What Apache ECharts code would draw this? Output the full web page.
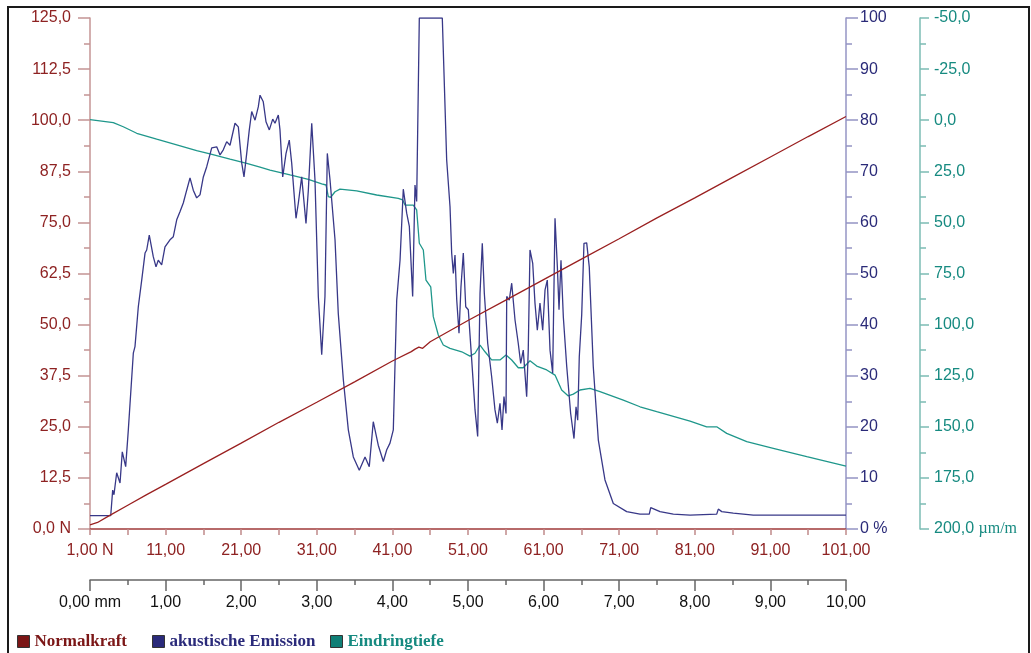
<!DOCTYPE html>
<html><head><meta charset="utf-8">
<script src="https://cdn.jsdelivr.net/npm/echarts@6/dist/echarts.min.js"></script>
<style>html,body{margin:0;padding:0;background:#fff}#c{width:1031px;height:653px}</style>
</head><body><div id="c"></div>
<script>
// Tick labels
const mmTicks = ['0,00 mm','1,00','2,00','3,00','4,00','5,00','6,00','7,00','8,00','9,00','10,00'];
const forceXTicks = ['1,00 N','11,00','21,00','31,00','41,00','51,00','61,00','71,00','81,00','91,00','101,00'];
const forceTicks = ['0,0 N','12,5','25,0','37,5','50,0','62,5','75,0','87,5','100,0','112,5','125,0'];
const pctTicks = ['0 %','10','20','30','40','50','60','70','80','90','100'];
const depthTicks = ['-50,0','-25,0','0,0','25,0','50,0','75,0','100,0','125,0','150,0','175,0','200,0'];

// Series names
const seriesNames = ['Normalkraft','akustische Emission','Eindringtiefe'];

// Normalkraft [mm, N]
const normalkraft = [[0,1.0],[0.1,1.6],[0.25,3.2],[0.5,5.8],[0.75,8.4],[1,10.9],[1.5,16.0],[2,21.0],[2.5,26.1],[3,31.0],[3.5,36.0],[4,41.1],[4.25,43.4],[4.3,44.0],[4.35,44.5],[4.4,44.2],[4.5,45.8],[5,51.0],[5.5,56.0],[6,61.0],[6.5,66.0],[7,71.0],[7.5,76.1],[8,81.0],[8.5,86.0],[9,91.0],[9.5,96.0],[10,100.9]];

// akustische Emission [mm, %]
const emission = [[0,2.6],[0.274,2.6],[0.300,7.6],[0.317,6.7],[0.353,11.0],[0.397,9.0],[0.427,15.1],[0.472,12.2],[0.507,19.4],[0.529,19.6],[0.573,34.4],[0.595,35.7],[0.639,43.5],[0.684,48.7],[0.728,54.0],[0.750,54.6],[0.784,57.5],[0.837,53.3],[0.873,51.3],[0.903,52.6],[0.948,51.7],[0.992,55.2],[1.058,56.6],[1.102,57.2],[1.147,60.5],[1.190,62.1],[1.234,63.8],[1.279,66.3],[1.323,68.7],[1.366,66.3],[1.411,64.8],[1.455,65.4],[1.499,68.9],[1.544,70.9],[1.610,74.6],[1.676,74.8],[1.720,73.2],[1.763,74.2],[1.808,75.8],[1.852,75.1],[1.918,79.4],[1.962,78.7],[2.007,71.6],[2.037,68.9],[2.073,73.5],[2.107,78.1],[2.139,81.7],[2.183,80.0],[2.226,82.6],[2.249,84.9],[2.292,83.6],[2.328,79.7],[2.372,78.1],[2.417,80.2],[2.447,79.4],[2.491,81.0],[2.513,78.1],[2.549,68.9],[2.593,73.5],[2.636,76.1],[2.668,71.6],[2.725,60.8],[2.755,63.7],[2.800,68.9],[2.857,59.8],[2.888,66.3],[2.933,79.4],[2.976,68.3],[3.020,45.5],[3.065,34.1],[3.108,45.5],[3.139,73.5],[3.175,68.3],[3.241,56.6],[3.284,42.2],[3.351,29.2],[3.417,19.4],[3.483,14.1],[3.562,11.5],[3.638,14.1],[3.694,12.2],[3.747,21.0],[3.813,16.4],[3.880,13.2],[3.925,15.5],[3.968,16.8],[4.012,19.4],[4.057,44.8],[4.101,52.6],[4.144,66.5],[4.189,61.8],[4.224,59.2],[4.268,45.5],[4.299,67.3],[4.321,64.1],[4.356,100],[4.660,100],[4.718,72.2],[4.762,63.1],[4.784,54.0],[4.806,50.0],[4.828,53.6],[4.851,44.8],[4.881,38.3],[4.907,47.4],[4.938,54.0],[4.970,43.5],[5.004,42.9],[5.049,33.1],[5.093,23.3],[5.128,18.1],[5.159,46.1],[5.189,55.9],[5.216,46.1],[5.261,36.3],[5.313,29.8],[5.357,23.3],[5.388,20.7],[5.423,24.6],[5.450,19.4],[5.476,25.9],[5.503,22.6],[5.512,45.5],[5.546,44.8],[5.578,48.1],[5.622,40.9],[5.665,36.3],[5.697,32.4],[5.731,35.0],[5.776,25.9],[5.797,35.0],[5.820,54.6],[5.856,52.0],[5.886,44.2],[5.917,38.9],[5.952,44.2],[5.988,38.9],[6.019,46.8],[6.049,48.7],[6.085,35.0],[6.120,30.5],[6.151,60.8],[6.182,51.3],[6.204,42.9],[6.230,52.6],[6.261,41.5],[6.306,31.8],[6.358,22.6],[6.402,17.7],[6.429,23.9],[6.451,21.3],[6.472,33.7],[6.504,41.9],[6.534,55.9],[6.570,56.0],[6.604,51.3],[6.657,31.8],[6.724,17.4],[6.812,9.6],[6.922,5.0],[7.099,3.4],[7.275,2.9],[7.398,2.9],[7.417,4.2],[7.540,3.4],[7.716,2.9],[7.937,2.7],[8.290,2.9],[8.311,3.9],[8.356,3.4],[8.377,3.7],[8.509,3.1],[8.774,2.7],[10,2.7]];

// Eindringtiefe [mm, µm/m]
const eindringtiefe = [[0,-0.3],[0.308,1.2],[0.440,3.2],[0.618,6.4],[0.882,9.3],[1.147,12.1],[1.411,14.9],[1.587,16.5],[1.852,19.1],[2.073,21.1],[2.249,23.0],[2.381,24.4],[2.646,26.8],[2.888,28.9],[3.065,31.2],[3.122,31.7],[3.152,37.4],[3.184,37.7],[3.241,35.0],[3.307,33.7],[3.528,34.6],[3.792,36.6],[4.078,38.2],[4.136,39.0],[4.167,41.5],[4.276,41.5],[4.321,43.9],[4.356,60.2],[4.409,63.5],[4.444,78.2],[4.507,81.5],[4.541,96.1],[4.607,105.1],[4.673,110.0],[4.762,111.6],[4.917,113.3],[5.026,115.4],[5.093,114.0],[5.159,110.0],[5.225,113.3],[5.313,117.3],[5.423,117.3],[5.503,114.9],[5.578,117.3],[5.665,121.1],[5.731,121.1],[5.820,117.7],[5.909,120.3],[6.041,122.2],[6.151,124.7],[6.239,132.0],[6.327,134.9],[6.393,134.0],[6.481,132.0],[6.614,131.2],[6.746,132.8],[7.054,136.9],[7.275,140.2],[7.496,142.6],[7.937,147.2],[8.157,150.0],[8.290,150.0],[8.422,153.2],[8.687,157.3],[9.038,160.5],[9.481,164.6],[10,169.2]];

const FONT = "'Liberation Sans', Arial, sans-serif";
const SERIF = "'Liberation Serif', 'Times New Roman', serif";
const RED = '#8e2222', BLUE = '#2f2f80', TEAL = '#168a80';

const chart = echarts.init(document.getElementById('c'), null, {renderer: 'canvas'});
chart.setOption({
  animation: false,
  backgroundColor: '#fff',
  grid: {left: 90, right: 185, top: 18, bottom: 124, containLabel: false},
  graphic: [{type: 'rect', shape: {x: 8, y: 7, width: 1021, height: 670}, style: {fill: 'none', stroke: '#1a1a1a', lineWidth: 2}, silent: true}],
  xAxis: [
    {type: 'value', min: 0, max: 10, interval: 1, position: 'bottom', offset: 51,
     axisLine: {show: true, onZero: false, lineStyle: {color: '#666', width: 1.5}},
     axisTick: {show: true, length: 11, lineStyle: {color: '#666', width: 1.5}},
     minorTick: {show: true, splitNumber: 2, length: 5, lineStyle: {color: '#666', width: 1.5}},
     splitLine: {show: false},
     axisLabel: {margin: 15, color: '#111', fontFamily: FONT, fontSize: 16, formatter: v => mmTicks[Math.round(v)]}},
    {type: 'value', min: 0, max: 10, interval: 1, position: 'bottom', offset: 0,
     axisLine: {show: true, onZero: false, lineStyle: {color: '#a03a3a', width: 1.5}},
     axisTick: {show: true, length: 6, lineStyle: {color: '#c08a8a', width: 1.5}},
     minorTick: {show: true, splitNumber: 2, length: 6, lineStyle: {color: '#c08a8a', width: 1.5}},
     splitLine: {show: false},
     axisLabel: {margin: 14, color: RED, fontFamily: FONT, fontSize: 16, formatter: v => forceXTicks[Math.round(v)]}}
  ],
  yAxis: [
    {type: 'value', min: 0, max: 125, interval: 12.5, position: 'left',
     axisLine: {show: true, onZero: false, lineStyle: {color: '#c49494', width: 1.5}},
     axisTick: {show: true, length: 12, lineStyle: {color: '#c49494', width: 1.5}},
     minorTick: {show: true, splitNumber: 2, length: 6, lineStyle: {color: '#c49494', width: 1.5}},
     splitLine: {show: false},
     axisLabel: {margin: 19, color: RED, fontFamily: FONT, fontSize: 16, formatter: v => forceTicks[Math.round(v / 12.5)]}},
    {type: 'value', min: 0, max: 100, interval: 10, position: 'right', offset: 0,
     axisLine: {show: true, onZero: false, lineStyle: {color: '#9494c4', width: 1.5}},
     axisTick: {show: true, length: 12, lineStyle: {color: '#9494c4', width: 1.5}},
     minorTick: {show: true, splitNumber: 2, length: 6, lineStyle: {color: '#9494c4', width: 1.5}},
     splitLine: {show: false},
     axisLabel: {margin: 14, color: '#2a2a78', fontFamily: FONT, fontSize: 16, formatter: v => pctTicks[Math.round(v / 10)]}},
    {type: 'value', min: -50, max: 200, interval: 25, inverse: true, position: 'right', offset: 74,
     axisLine: {show: true, onZero: false, lineStyle: {color: '#7cbcb4', width: 1.5}},
     axisTick: {show: true, length: 9, lineStyle: {color: '#7cbcb4', width: 1.5}},
     minorTick: {show: true, splitNumber: 2, length: 6, lineStyle: {color: '#7cbcb4', width: 1.5}},
     splitLine: {show: false},
     axisLabel: {margin: 14, color: TEAL, fontFamily: FONT, fontSize: 16,
       formatter: v => { const i = Math.round((v + 50) / 25); return i === depthTicks.length - 1 ? depthTicks[i] + ' {u|µm/m}' : depthTicks[i]; },
       rich: {u: {fontFamily: SERIF, fontSize: 16, color: TEAL}}}}
  ],
  legend: [
    {left: 17, top: 633, padding: 0, itemWidth: 12, itemHeight: 12, icon: 'rect', selectedMode: false,
     data: [{name: seriesNames[0], itemStyle: {color: '#7b1616', borderColor: '#333', borderWidth: 1}, textStyle: {color: '#7b1616'}}],
     textStyle: {fontFamily: SERIF, fontWeight: 'bold', fontSize: 17}},
    {left: 152, top: 633, padding: 0, itemWidth: 12, itemHeight: 12, icon: 'rect', selectedMode: false,
     data: [{name: seriesNames[1], itemStyle: {color: '#2a2a7a', borderColor: '#333', borderWidth: 1}, textStyle: {color: '#2a2a7a'}}],
     textStyle: {fontFamily: SERIF, fontWeight: 'bold', fontSize: 17}},
    {left: 330, top: 633, padding: 0, itemWidth: 12, itemHeight: 12, icon: 'rect', selectedMode: false,
     data: [{name: seriesNames[2], itemStyle: {color: '#0f7f76', borderColor: '#333', borderWidth: 1}, textStyle: {color: '#168a80'}}],
     textStyle: {fontFamily: SERIF, fontWeight: 'bold', fontSize: 17}}
  ],
  series: [
    {name: seriesNames[0], type: 'line', xAxisIndex: 0, yAxisIndex: 0, data: normalkraft, showSymbol: false, symbol: 'none',
     lineStyle: {color: '#9a2020', width: 1.3}, itemStyle: {color: '#9a2020'}, z: 4},
    {name: seriesNames[1], type: 'line', xAxisIndex: 0, yAxisIndex: 1, data: emission, showSymbol: false, symbol: 'none',
     lineStyle: {color: '#383888', width: 1.3}, itemStyle: {color: '#383888'}, z: 3},
    {name: seriesNames[2], type: 'line', xAxisIndex: 0, yAxisIndex: 2, data: eindringtiefe, showSymbol: false, symbol: 'none',
     lineStyle: {color: '#1f978b', width: 1.3}, itemStyle: {color: '#1f978b'}, z: 2}
  ]
});
</script></body></html>
